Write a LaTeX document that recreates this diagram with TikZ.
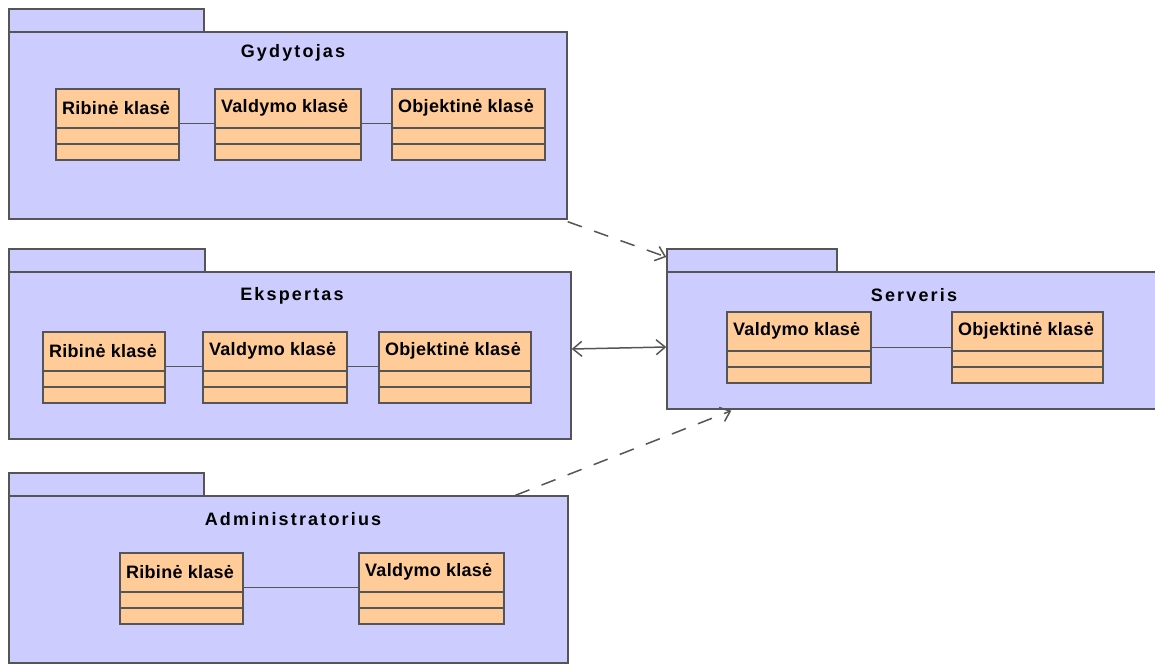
\documentclass[tikz,border=0pt]{standalone}
\usepackage{fontspec}
\setmainfont{Liberation Sans}
\newfontfamily\ttlfont[LetterSpace=12]{Liberation Sans}
\newfontfamily\clsfont[LetterSpace=1.5]{Liberation Sans}
\usetikzlibrary{arrows.meta,fit,calc}

\definecolor{pkgfill}{HTML}{CCCCFF}
\definecolor{clsfill}{HTML}{FFCC99}
\definecolor{edge}{HTML}{555555}

\tikzset{
  pkgbox/.style={draw=edge, fill=pkgfill, line width=1.4pt, inner sep=0pt},
  clsbox/.style={draw=edge, fill=clsfill, line width=1.3pt, inner sep=0pt},
  sepline/.style={draw=edge, line width=1.2pt},
  assoc/.style={draw=edge, line width=1.4pt},
  pkgtitle/.style={font=\ttlfont\bfseries\fontsize{18}{21}\selectfont, inner sep=0pt},
  clslabel/.style={font=\clsfont\bfseries\fontsize{18}{21}\selectfont, inner sep=0pt, anchor=west},
  depend/.style={draw=edge, line width=1.5pt, dash pattern=on 15pt off 13pt,
    -{Straight Barb[length=9pt,width=15pt,line width=1.5pt]}},
  navig/.style={draw=edge, line width=1.5pt,
    {Straight Barb[length=9pt,width=15pt,line width=1.5pt]}-{Straight Barb[length=9pt,width=15pt,line width=1.5pt]}}
}

% package: name, tab right x, top y, body right x, body bottom y
\newcommand\umlpackage[5]{%
  \node[pkgbox, fit={(9,#3) (#2,#3+23)}] (#1tab) {};
  \node[pkgbox, fit={(9,#3+23) (#4,#5)}] (#1) {};
}
% class: name, left x, right x, top y, label
\newcommand\umlclass[5]{%
  \node[clsbox, fit={(#2,#4) (#3,#4+71)}] (#1) {};
  \draw[sepline] (#2,#4+39) -- (#3,#4+39);
  \draw[sepline] (#2,#4+55) -- (#3,#4+55);
  \node[clslabel] (#1txt) at (#2+6,#4+19) {#5};
}

\begin{document}
\begin{tikzpicture}[x=1pt,y=-1pt]
\useasboundingbox (0,0) rectangle (1155,665);

% packages
\umlpackage{gyd}{204}{9}{567}{219}
\umlpackage{eks}{205}{249}{571}{439}
\umlpackage{adm}{204}{473}{568}{663}
\node[pkgbox, fit={(667,249) (837,272)}] (srvtab) {};
\node[pkgbox, fit={(667,272) (1158,409)}] (srv) {};

% package titles
\node[pkgtitle] (gydt) at (293,53) {Gydytojas};
\node[pkgtitle] (ekst) at (292,296) {Ekspertas};
\node[pkgtitle] (admt) at (293,519) {Administratorius};
\node[pkgtitle] (srvt) at (914,295) {Serveris};

% classes
\umlclass{g1}{56}{179}{89}{Ribinė klasė}
\umlclass{g2}{215}{361}{89}{Valdymo klasė}
\umlclass{g3}{392}{545}{89}{Objektinė klasė}

\umlclass{e1}{43}{165}{332}{Ribinė klasė}
\umlclass{e2}{203}{347}{332}{Valdymo klasė}
\umlclass{e3}{379}{531}{332}{Objektinė klasė}

\umlclass{a1}{120}{243}{553}{Ribinė klasė}
\umlclass{a2}{359}{504}{553}{Valdymo klasė}

\umlclass{s1}{727}{871}{312}{Valdymo klasė}
\umlclass{s2}{952}{1103}{312}{Objektinė klasė}

% associations inside packages
\draw[assoc] ([yshift=-35pt]g1.north east) -- ([yshift=-35pt]g2.north west);
\draw[assoc] ([yshift=-35pt]g2.north east) -- ([yshift=-35pt]g3.north west);
\draw[assoc] ([yshift=-35pt]e1.north east) -- ([yshift=-35pt]e2.north west);
\draw[assoc] ([yshift=-35pt]e2.north east) -- ([yshift=-35pt]e3.north west);
\draw[assoc] ([yshift=-35pt]a1.north east) -- ([yshift=-35pt]a2.north west);
\draw[assoc] ([yshift=-36pt]s1.north east) -- ([yshift=-36pt]s2.north west);

% dependencies between packages
\draw[depend] ([yshift=-2pt]gyd.south east) -- ([yshift=3.5pt]srvtab.west);
\draw[navig] ([yshift=6.5pt]eks.east) -- ([yshift=-6.5pt]srv.west);
\draw[depend] ($(adm.north west)!0.905!(adm.north east)$) -- ([xshift=65pt,yshift=-1pt]srv.south west);
\end{tikzpicture}
\end{document}
